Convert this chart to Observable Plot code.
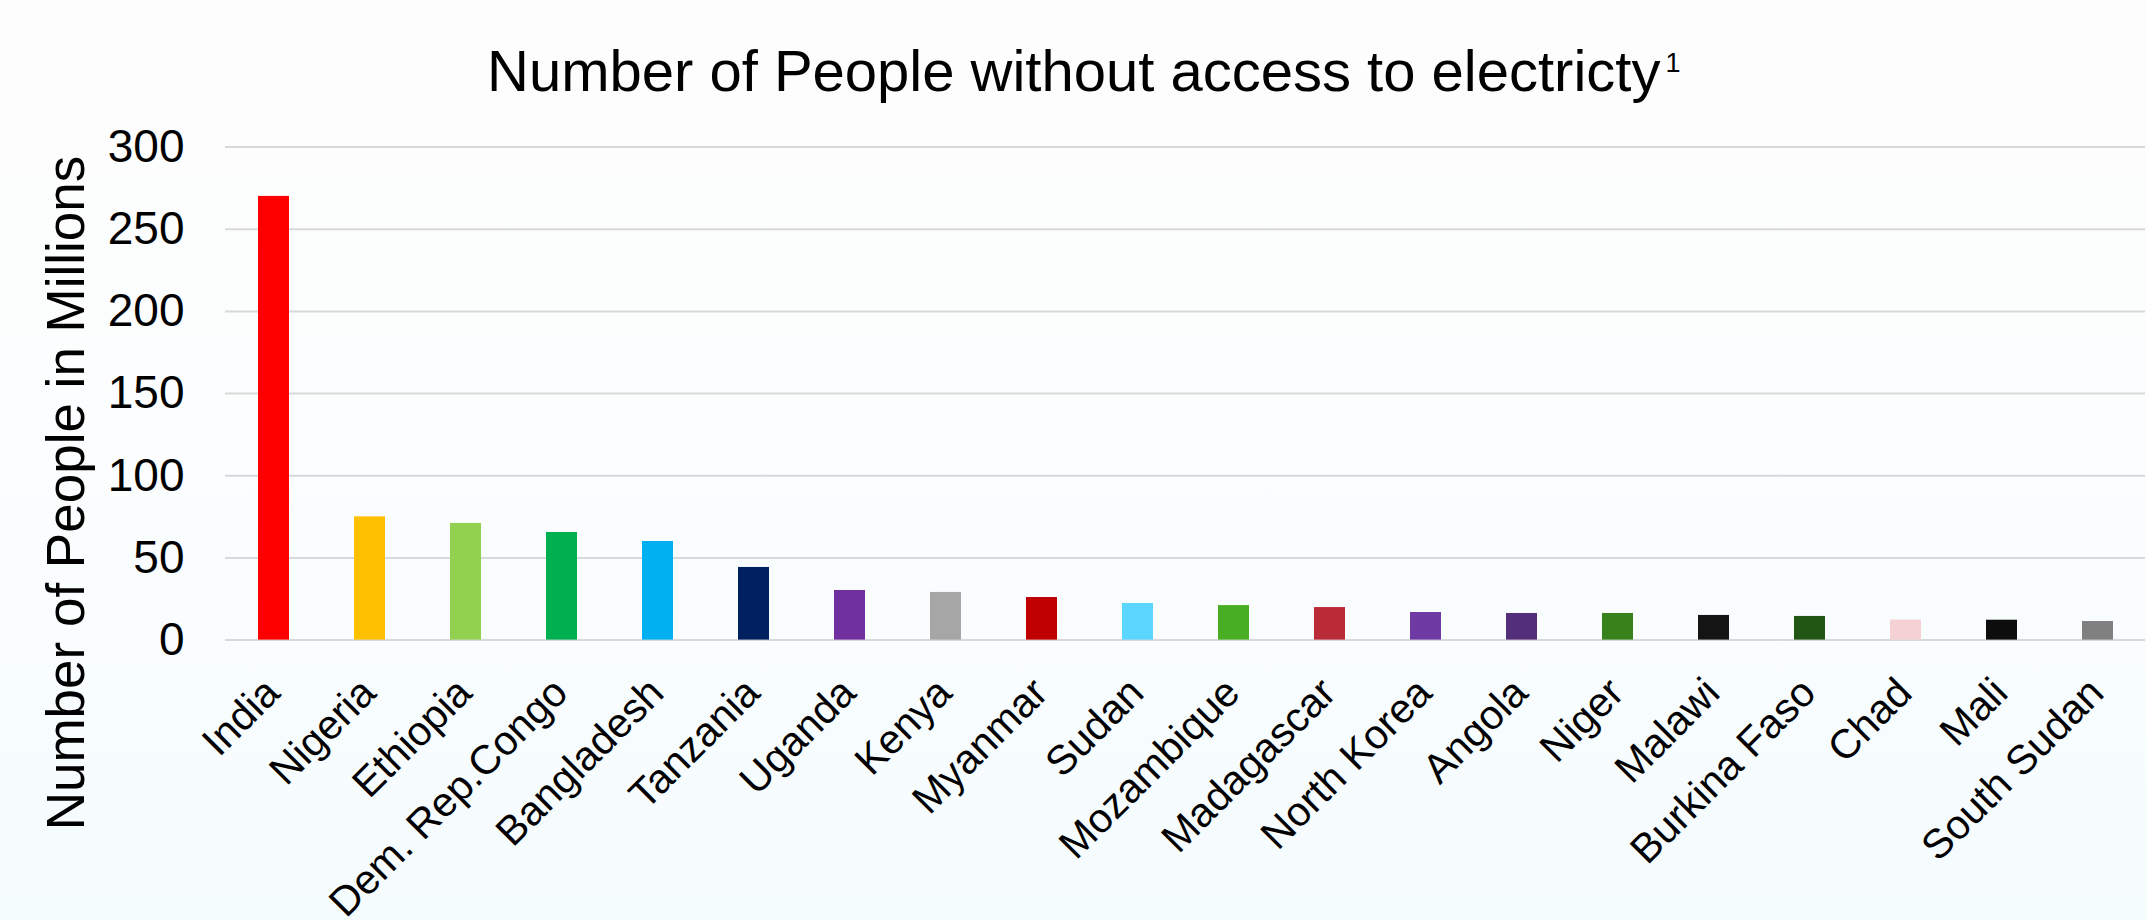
<!DOCTYPE html>
<html><head><meta charset="utf-8">
<script src="https://cdn.jsdelivr.net/npm/d3@7"></script>
<script src="https://cdn.jsdelivr.net/npm/@observablehq/plot@0.6"></script>
<style>
html,body{margin:0;padding:0;width:2146px;height:920px;overflow:hidden;background:linear-gradient(to bottom,#fdfdfd 0%,#fbfdfe 50%,#f5fcfe 100%);}
#chart{position:absolute;left:0;top:0;}
</style></head><body><div id="chart"></div>
<script>
const countries = ["India","Nigeria","Ethiopia","Dem. Rep.Congo","Bangladesh","Tanzania","Uganda","Kenya","Myanmar","Sudan","Mozambique","Madagascar","North Korea","Angola","Niger","Malawi","Burkina Faso","Chad","Mali","South Sudan"];
const values = [270, 75, 71, 65.5, 60, 44.2, 30.2, 29, 25.9, 22.3, 21, 19.8, 16.8, 16.2, 16.2, 15, 14.4, 12.2, 12.1, 11.3];
const colors = ["#ff0000","#ffc000","#92d050","#00b050","#00b0f0","#002060","#7030a0","#a6a6a6","#c00000","#5ad6ff","#48ae24","#ba2b38","#6f3aa3","#532e7a","#37821b","#141414","#225614","#f5d0d4","#0d0d0d","#808080"];
const yTicks = [0, 50, 100, 150, 200, 250, 300];
const titleText = "Number of People without access to electricty";
const titleSup = "1";
const yLabel = "Number of People in Millions";

const data = countries.map((c, i) => ({country: c, value: values[i], color: colors[i]}));

const svg = Plot.plot({
  width: 2146, height: 920,
  marginTop: 146.6, marginBottom: 280.4, marginLeft: 225, marginRight: 1,
  style: {fontFamily: "'Liberation Sans', Arial, sans-serif", background: "transparent", color: "#000", overflow: "visible"},
  x: {domain: countries, paddingInner: 0.68, paddingOuter: 0.34, axis: null},
  y: {domain: [0, 300], axis: null},
  color: {type: "identity"},
  marks: [
    Plot.gridY(yTicks, {stroke: "#d9d9d9", strokeOpacity: 1, strokeWidth: 2}),
    Plot.barY(data, {x: "country", y: "value", fill: "color"}),
    Plot.axisY(yTicks, {tickSize: 0, tickPadding: 41, fontSize: 46, label: null, fill: "#000"}),
    Plot.text(data, {x: "country", y: () => 0, text: "country", rotate: -45, textAnchor: "end", lineAnchor: "bottom", dx: 8, dy: 55, fontSize: 41, fill: "#000"})
  ]
});

const s = d3.select(svg);
const t = s.append("text").attr("x", 487).attr("y", 91).attr("text-anchor", "start").attr("font-size", 58).attr("fill", "#000").text(titleText);
t.append("tspan").attr("font-size", 27).attr("dx", 5).attr("dy", -19).text(titleSup);
s.append("text").attr("transform", "translate(84,493) rotate(-90)").attr("text-anchor", "middle").attr("font-size", 53).attr("fill", "#000").text(yLabel);

document.getElementById("chart").appendChild(svg);
</script></body></html>
